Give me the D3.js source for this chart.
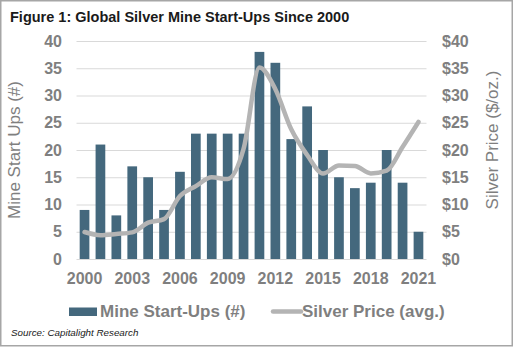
<!DOCTYPE html>
<html>
<head>
<meta charset="utf-8">
<script src="https://cdn.jsdelivr.net/npm/d3@7"></script>
<style>
  html, body { margin: 0; padding: 0; background: #fff; }
  svg { display: block; font-family: Arial, "Liberation Sans", sans-serif; }
</style>
</head>
<body>
<svg></svg>
<script>
let years = d3.range(2000, 2022);
let startUps = [9, 21, 8, 17, 15, 9, 16, 23, 23, 23, 23, 38, 36, 22, 28, 20, 15, 13, 14, 20, 14, 5];
let silverPrice = [4.95, 4.37, 4.60, 4.88, 6.67, 7.32, 11.55, 13.38, 14.99, 14.67, 20.19, 35.12,
                   31.15, 23.79, 19.08, 15.68, 17.14, 17.05, 15.71, 16.21, 20.55, 25.14];
let yTicks = [0, 5, 10, 15, 20, 25, 30, 35, 40];
let xTickYears = [2000, 2003, 2006, 2009, 2012, 2015, 2018, 2021];

let width = 514;
let height = 347;
let plot = { left: 76.5, right: 426.5, top: 41, bottom: 259 };

let barColor = "#44687d";
let lineColor = "#b4b4b4";
let textGrey = "#7f7f7f";

let svg = d3.select("svg")
            .attr("width", width)
            .attr("height", height);

// frame
svg.append("rect")
   .attr("x", 0.75).attr("y", 0.75)
   .attr("width", width - 2.5).attr("height", height - 2)
   .attr("fill", "#fff")
   .attr("stroke", "#a6a6a6")
   .attr("stroke-width", 1.5);

let xScale = d3.scaleBand()
               .domain(years)
               .range([plot.left, plot.right])
               .paddingInner(0.39)
               .paddingOuter(0.2);

let yLeft = d3.scaleLinear().domain([0, 40]).range([plot.bottom, plot.top]);
let yRight = d3.scaleLinear().domain([0, 40]).range([plot.bottom, plot.top]);

// gridlines
svg.append("g")
   .selectAll("line")
   .data(yTicks.slice(1))
   .enter()
   .append("line")
   .attr("x1", plot.left).attr("x2", plot.right)
   .attr("y1", d => yLeft(d) + 0.5).attr("y2", d => yLeft(d) + 0.5)
   .attr("stroke", "#d9d9d9")
   .attr("stroke-width", 1);

// bars
svg.append("g")
   .selectAll("rect")
   .data(years)
   .enter()
   .append("rect")
   .attr("x", d => xScale(d))
   .attr("y", (d, i) => yLeft(startUps[i]))
   .attr("width", xScale.bandwidth())
   .attr("height", (d, i) => yLeft(0) - yLeft(startUps[i]))
   .attr("fill", barColor);

// baseline
svg.append("line")
   .attr("x1", plot.left).attr("x2", plot.right)
   .attr("y1", plot.bottom + 0.5).attr("y2", plot.bottom + 0.5)
   .attr("stroke", "#d9d9d9");

// price line
let line = d3.line()
             .x((d, i) => xScale(years[i]) + xScale.bandwidth() / 2)
             .y(d => yRight(d))
             .curve(d3.curveMonotoneX);

svg.append("path")
   .datum(silverPrice)
   .attr("d", line)
   .attr("fill", "none")
   .attr("stroke", lineColor)
   .attr("stroke-width", 4.5)
   .attr("stroke-linecap", "round")
   .attr("stroke-linejoin", "round");

// axes
let leftAxis = d3.axisLeft(yLeft).tickValues(yTicks).tickSize(0).tickPadding(0);
let rightAxis = d3.axisRight(yRight).tickValues(yTicks).tickSize(0).tickPadding(0)
                  .tickFormat(d => "$" + d);
let bottomAxis = d3.axisBottom(xScale).tickValues(xTickYears).tickSize(0).tickPadding(0);

function styleAxis(g) {
    g.select(".domain").remove();
    g.selectAll("text")
     .attr("fill", textGrey)
     .style("font-size", "16px")
     .style("font-weight", "bold")
     .style("font-family", "Arial, 'Liberation Sans', sans-serif");
}

svg.append("g")
   .attr("transform", "translate(62, 0)")
   .call(leftAxis)
   .call(styleAxis);

svg.append("g")
   .attr("transform", "translate(442, 0)")
   .call(rightAxis)
   .call(styleAxis);

svg.append("g")
   .attr("transform", `translate(0, ${plot.bottom + 14})`)
   .call(bottomAxis)
   .call(styleAxis);

// titles
svg.append("text")
   .attr("x", 10).attr("y", 21.5)
   .attr("fill", "#1a1a1a")
   .style("font-size", "14.5px")
   .style("font-weight", "bold")
   .text("Figure 1: Global Silver Mine Start-Ups Since 2000");

svg.append("text")
   .attr("transform", "translate(20, 150) rotate(-90)")
   .attr("text-anchor", "middle")
   .attr("fill", textGrey)
   .style("font-size", "17px")
   .text("Mine Start Ups (#)");

svg.append("text")
   .attr("transform", "translate(497.5, 140) rotate(-90)")
   .attr("text-anchor", "middle")
   .attr("fill", textGrey)
   .style("font-size", "17px")
   .text("Silver Price ($/oz.)");

// legend
let legend = svg.append("g");
legend.append("rect")
      .attr("x", 69).attr("y", 307.5)
      .attr("width", 28).attr("height", 8.5)
      .attr("fill", barColor);
legend.append("text")
      .attr("x", 100).attr("y", 316.5)
      .attr("fill", textGrey)
      .style("font-size", "17px")
      .style("font-weight", "bold")
      .text("Mine Start-Ups (#)");
legend.append("line")
      .attr("x1", 273).attr("x2", 301)
      .attr("y1", 311.5).attr("y2", 311.5)
      .attr("stroke", lineColor)
      .attr("stroke-width", 4.5)
      .attr("stroke-linecap", "round");
legend.append("text")
      .attr("x", 302).attr("y", 316.5)
      .attr("fill", textGrey)
      .style("font-size", "17px")
      .style("font-weight", "bold")
      .text("Silver Price (avg.)");

// source note
svg.append("text")
   .attr("x", 11).attr("y", 336)
   .attr("fill", "#1a1a1a")
   .style("font-size", "9.8px")
   .style("font-style", "italic")
   .text("Source: Capitalight Research");
</script>
</body>
</html>
